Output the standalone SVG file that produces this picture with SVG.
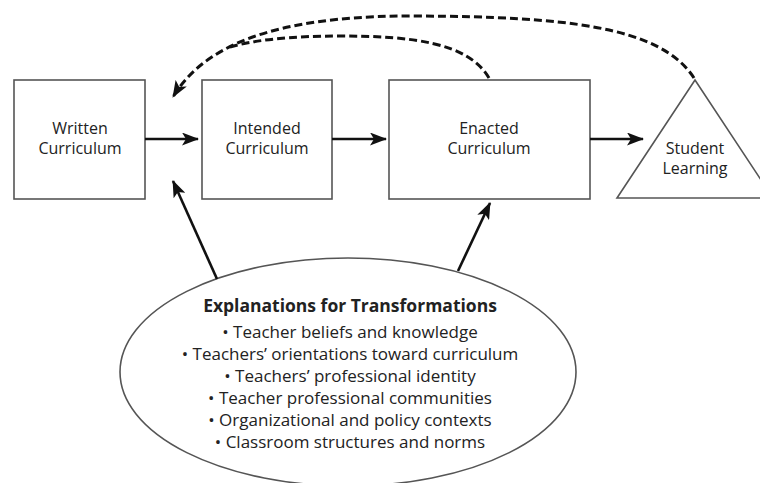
<svg xmlns="http://www.w3.org/2000/svg" width="760" height="483" viewBox="0 0 760 483">
<defs>
<style>
.box{fill:#fff;stroke:#555;stroke-width:1.6}
.lbl{font-family:"Open Sans","Noto Sans",sans-serif;font-size:16px;fill:#222;text-anchor:middle}
.item{font-family:"Open Sans","Noto Sans",sans-serif;font-size:17px;fill:#222;text-anchor:middle}
.title{font-family:"Open Sans","Noto Sans",sans-serif;font-size:17.5px;font-weight:bold;fill:#222;text-anchor:middle}
.arr{fill:none;stroke:#111;stroke-width:2.6}
.dash{fill:none;stroke:#111;stroke-width:3;stroke-dasharray:8 4}
</style>
<marker id="ah" markerWidth="17" markerHeight="13" refX="16" refY="6.5" orient="auto" markerUnits="userSpaceOnUse">
<path d="M0,0 L17,6.5 L0,13 L4,6.5 Z" fill="#111"/>
</marker>
</defs>
<rect width="760" height="483" fill="#fff"/>
<g id="written">
<rect class="box" x="14" y="80" width="131" height="119"/>
<text class="lbl" x="80" y="134">Written</text>
<text class="lbl" x="80" y="154">Curriculum</text>
</g>
<g id="intended">
<rect class="box" x="202" y="80" width="130" height="119"/>
<text class="lbl" x="267" y="134">Intended</text>
<text class="lbl" x="267" y="154">Curriculum</text>
</g>
<g id="enacted">
<rect class="box" x="389" y="80" width="201" height="119"/>
<text class="lbl" x="489" y="134">Enacted</text>
<text class="lbl" x="489" y="154">Curriculum</text>
</g>
<g id="student">
<path class="box" d="M695,80 L773,198 L617,198 Z"/>
<text class="lbl" x="695" y="154">Student</text>
<text class="lbl" x="695" y="174">Learning</text>
</g>
<g id="explanations">
<ellipse class="box" cx="348" cy="372" rx="228" ry="114"/>
<text class="title" x="350" y="312">Explanations for Transformations</text>
<text class="item" x="350" y="338">• Teacher beliefs and knowledge</text>
<text class="item" x="350" y="360">• Teachers’ orientations toward curriculum</text>
<text class="item" x="350" y="382">• Teachers’ professional identity</text>
<text class="item" x="350" y="404">• Teacher professional communities</text>
<text class="item" x="350" y="426">• Organizational and policy contexts</text>
<text class="item" x="350" y="448">• Classroom structures and norms</text>
</g>
<g id="connectors">
<line class="arr" x1="145" y1="139" x2="198" y2="139" marker-end="url(#ah)"/>
<line class="arr" x1="332" y1="139" x2="386" y2="139" marker-end="url(#ah)"/>
<line class="arr" x1="590" y1="139" x2="643" y2="139" marker-end="url(#ah)"/>
<line class="arr" x1="217" y1="279" x2="173" y2="181" marker-end="url(#ah)"/>
<line class="arr" x1="458" y1="271" x2="490" y2="203" marker-end="url(#ah)"/>
<path class="dash" d="M694,78 C660,25 560,17 420,16 C300,15 210,35 173,97" marker-end="url(#ah)"/>
<path class="dash" d="M489,78 C468,42 410,36 340,36 C290,36 255,40 230,47"/>
</g>
</svg>
